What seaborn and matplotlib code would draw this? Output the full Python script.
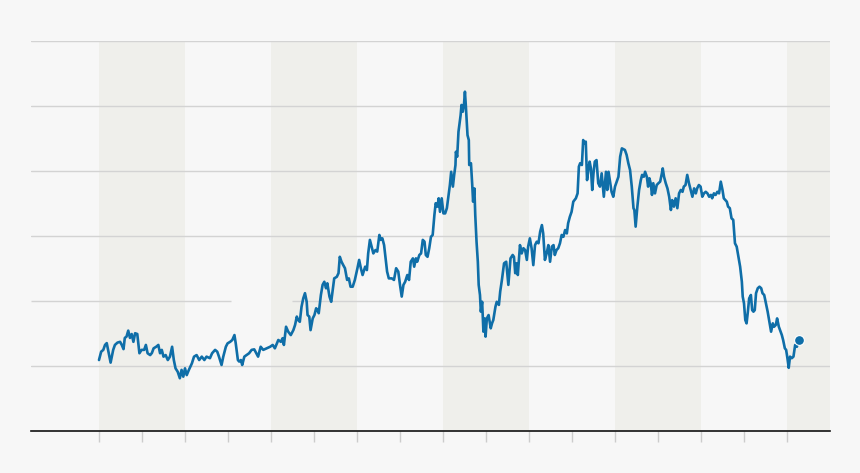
import pandas as pd
import numpy as np
import matplotlib
matplotlib.use("Agg")
import matplotlib.pyplot as plt
import seaborn as sns

# weekly-ish series (decimal year, value)
dates = [
    2000.00, 2000.05, 2000.10, 2000.14, 2000.18, 2000.22, 2000.27, 2000.33, 2000.37, 2000.43,
    2000.49, 2000.53, 2000.57, 2000.60, 2000.64, 2000.68, 2000.72, 2000.76, 2000.80, 2000.84,
    2000.89, 2000.94, 2000.99, 2001.05, 2001.09, 2001.13, 2001.19, 2001.23, 2001.27, 2001.33,
    2001.38, 2001.42, 2001.46, 2001.50, 2001.55, 2001.60, 2001.65, 2001.70, 2001.74, 2001.78,
    2001.83, 2001.88, 2001.92, 2001.96, 2002.00, 2002.04, 2002.09, 2002.16, 2002.21, 2002.27,
    2002.33, 2002.39, 2002.45, 2002.50, 2002.58, 2002.63, 2002.70, 2002.75, 2002.79, 2002.85,
    2002.89, 2002.95, 2002.99, 2003.05, 2003.10, 2003.15, 2003.18, 2003.23, 2003.26, 2003.30,
    2003.33, 2003.38, 2003.43, 2003.49, 2003.55, 2003.61, 2003.70, 2003.76, 2003.82, 2003.90,
    2003.98, 2004.04, 2004.09, 2004.17, 2004.23, 2004.27, 2004.30, 2004.35, 2004.40, 2004.46,
    2004.52, 2004.56, 2004.60, 2004.63, 2004.67, 2004.71, 2004.75, 2004.79, 2004.83, 2004.85,
    2004.89, 2004.92, 2004.97, 2005.01, 2005.05, 2005.08, 2005.11, 2005.16, 2005.20, 2005.24,
    2005.28, 2005.31, 2005.36, 2005.40, 2005.43, 2005.47, 2005.53, 2005.57, 2005.60, 2005.64,
    2005.68, 2005.72, 2005.77, 2005.81, 2005.85, 2005.90, 2005.95, 2006.01, 2006.05, 2006.09,
    2006.13, 2006.19, 2006.23, 2006.26, 2006.30, 2006.34, 2006.38, 2006.43, 2006.47, 2006.52,
    2006.55, 2006.59, 2006.63, 2006.67, 2006.70, 2006.74, 2006.81, 2006.86, 2006.91, 2006.96,
    2007.00, 2007.04, 2007.08, 2007.12, 2007.17, 2007.21, 2007.25, 2007.30, 2007.33, 2007.37,
    2007.40, 2007.45, 2007.49, 2007.53, 2007.57, 2007.60, 2007.64, 2007.68, 2007.72, 2007.76,
    2007.80, 2007.83, 2007.87, 2007.90, 2007.93, 2007.97, 2008.01, 2008.05, 2008.09, 2008.12,
    2008.16, 2008.19, 2008.23, 2008.26, 2008.29, 2008.30, 2008.33, 2008.36, 2008.38, 2008.41,
    2008.43, 2008.46, 2008.49, 2008.51, 2008.53, 2008.57, 2008.60, 2008.61, 2008.65, 2008.68,
    2008.70, 2008.73, 2008.75, 2008.78, 2008.81, 2008.83, 2008.86, 2008.88, 2008.91, 2008.94,
    2008.97, 2008.99, 2009.02, 2009.06, 2009.11, 2009.14, 2009.17, 2009.22, 2009.25, 2009.30,
    2009.33, 2009.37, 2009.42, 2009.47, 2009.52, 2009.57, 2009.62, 2009.65, 2009.68, 2009.71,
    2009.74, 2009.79, 2009.83, 2009.87, 2009.91, 2009.95, 2009.98, 2010.02, 2010.06, 2010.10,
    2010.14, 2010.18, 2010.22, 2010.26, 2010.30, 2010.33, 2010.37, 2010.41, 2010.45, 2010.49,
    2010.53, 2010.57, 2010.60, 2010.64, 2010.68, 2010.72, 2010.76, 2010.80, 2010.84, 2010.88,
    2010.91, 2010.95, 2010.99, 2011.03, 2011.09, 2011.13, 2011.16, 2011.19, 2011.23, 2011.26,
    2011.29, 2011.32, 2011.35, 2011.38, 2011.41, 2011.44, 2011.47, 2011.50, 2011.53, 2011.57,
    2011.61, 2011.65, 2011.69, 2011.74, 2011.79, 2011.82, 2011.85, 2011.88, 2011.92, 2011.96,
    2012.00, 2012.04, 2012.08, 2012.12, 2012.16, 2012.23, 2012.27, 2012.31, 2012.35, 2012.39,
    2012.43, 2012.45, 2012.48, 2012.52, 2012.56, 2012.60, 2012.63, 2012.67, 2012.70, 2012.74,
    2012.77, 2012.80, 2012.83, 2012.86, 2012.89, 2012.93, 2012.97, 2013.01, 2013.05, 2013.09,
    2013.11, 2013.14, 2013.18, 2013.22, 2013.26, 2013.30, 2013.33, 2013.37, 2013.41, 2013.45,
    2013.49, 2013.53, 2013.57, 2013.60, 2013.64, 2013.68, 2013.72, 2013.76, 2013.80, 2013.84,
    2013.88, 2013.91, 2013.95, 2013.99, 2014.03, 2014.07, 2014.11, 2014.15, 2014.19, 2014.23,
    2014.26, 2014.30, 2014.34, 2014.38, 2014.42, 2014.46, 2014.50, 2014.53, 2014.60, 2014.63,
    2014.67, 2014.71, 2014.75, 2014.79, 2014.83, 2014.87, 2014.91, 2014.95, 2014.97, 2015.00,
    2015.03, 2015.06, 2015.09, 2015.12, 2015.16, 2015.19, 2015.22, 2015.25, 2015.28, 2015.32,
    2015.36, 2015.40, 2015.43, 2015.47, 2015.51, 2015.55, 2015.59, 2015.63, 2015.67, 2015.70,
    2015.74, 2015.77, 2015.81, 2015.85, 2015.88, 2015.91, 2015.95, 2015.98, 2016.01, 2016.04,
    2016.07, 2016.11, 2016.15, 2016.19, 2016.23, 2016.27,
]
price = [
    27.3, 30.5, 31.2, 33.1, 33.8, 30.5, 26.3, 31.2, 33.1, 34.0,
    34.3, 33.1, 31.5, 35.8, 36.3, 38.6, 35.8, 37.3, 34.3, 37.6,
    37.3, 29.9, 31.2, 31.2, 33.1, 29.9, 29.2, 30.0, 31.8, 32.4,
    33.1, 29.9, 31.2, 28.6, 29.2, 27.3, 28.6, 32.4, 27.3, 24.1,
    22.8, 20.3, 23.5, 20.9, 24.1, 21.5, 23.5, 26.0, 28.6, 29.2,
    27.3, 28.6, 27.3, 28.6, 28.0, 29.9, 31.2, 30.5, 28.6, 25.4,
    28.6, 32.4, 33.7, 34.3, 35.0, 36.9, 33.7, 27.3, 26.7, 27.3,
    25.4, 28.6, 29.2, 29.9, 31.2, 31.4, 28.6, 32.4, 31.2, 31.8,
    32.4, 33.1, 31.8, 35.0, 34.3, 35.7, 33.1, 40.1, 38.2, 36.9,
    38.8, 40.8, 44.0, 42.7, 42.0, 47.8, 51.0, 53.0, 49.7, 44.6,
    44.0, 38.8, 43.3, 44.6, 47.2, 46.5, 45.3, 52.3, 56.2, 57.4,
    54.9, 56.8, 51.7, 49.7, 53.6, 58.7, 59.3, 60.7, 67.0, 65.1,
    63.8, 62.6, 58.1, 58.7, 55.5, 55.5, 58.1, 62.6, 65.8, 62.6,
    60.0, 63.2, 61.9, 68.3, 73.5, 70.9, 68.3, 69.6, 69.0, 75.4,
    73.5, 74.1, 71.5, 65.8, 61.3, 58.7, 58.7, 58.1, 62.6, 61.3,
    56.2, 51.7, 56.2, 57.4, 60.0, 58.1, 65.1, 66.4, 63.2, 66.4,
    65.1, 67.7, 68.3, 73.5, 72.8, 67.7, 67.0, 70.3, 74.7, 75.4,
    83.1, 87.6, 86.3, 89.5, 84.3, 89.5, 83.7, 83.7, 85.7, 89.5,
    94.6, 99.7, 94.0, 98.5, 102.3, 107.4, 105.5, 115.1, 117.7, 121.5,
    125.4, 122.8, 126.0, 130.5, 125.4, 113.8, 111.9, 102.3, 103.0, 94.6,
    88.2, 93.3, 83.1, 72.8, 65.1, 56.2, 52.3, 45.9, 49.7, 38.2,
    43.3, 36.3, 43.3, 44.6, 39.5, 41.4, 42.7, 47.8, 49.7, 48.5,
    53.6, 58.1, 64.5, 65.1, 56.2, 66.4, 67.7, 67.0, 60.7, 64.5,
    60.0, 71.5, 68.3, 70.3, 69.6, 65.8, 70.9, 74.1, 70.3, 63.8,
    71.5, 72.8, 72.2, 76.7, 79.2, 76.0, 65.8, 68.3, 71.5, 65.1,
    70.9, 71.5, 67.7, 69.6, 70.3, 72.2, 75.4, 74.7, 77.3, 76.0,
    79.9, 82.4, 84.3, 88.2, 89.5, 91.4, 101.7, 103.0, 102.3, 111.9,
    110.7, 111.3, 96.5, 100.4, 103.6, 101.0, 92.7, 99.1, 103.6, 104.2,
    95.3, 94.0, 99.1, 90.1, 99.7, 92.7, 99.7, 96.5, 92.0, 90.1,
    94.0, 95.9, 97.8, 105.5, 108.7, 108.1, 106.2, 103.0, 100.4, 94.0,
    85.7, 85.0, 78.6, 86.3, 92.7, 96.5, 98.5, 97.8, 99.7, 97.8,
    94.0, 97.2, 95.3, 90.8, 95.3, 91.4, 94.6, 95.3, 95.9, 99.1,
    101.0, 97.8, 95.3, 93.3, 90.1, 85.0, 88.8, 86.3, 89.5, 85.7,
    91.4, 92.7, 92.0, 94.0, 94.6, 98.5, 95.3, 92.7, 90.1, 93.3,
    91.4, 93.3, 94.6, 94.0, 90.1, 91.4, 92.0, 91.4, 90.1, 90.8,
    89.5, 91.4, 90.8, 92.0, 91.4, 95.9, 92.7, 89.5, 88.2, 86.3,
    85.7, 81.8, 81.2, 72.2, 70.9, 67.0, 63.2, 57.4, 51.7, 49.1,
    42.7, 41.4, 45.9, 51.0, 52.3, 46.5, 45.9, 46.5, 53.0, 54.9,
    55.5, 54.9, 53.0, 52.3, 49.1, 45.9, 42.0, 38.2, 41.4, 40.1,
    40.8, 43.3, 40.1, 38.2, 36.9, 35.0, 31.8, 31.2, 28.0, 24.3,
    28.6, 28.0, 28.6, 33.1, 32.4, 35.0,
]

tick_years = list(range(2000, 2017))
band_starts = [2000, 2004, 2008, 2012, 2016]
grid_levels = [25, 50, 75, 100, 125, 150]

df = pd.DataFrame({'date': dates, 'price': price})

bg = '#f7f7f7'
band_col = '#efefeb'
line_col = '#0f6ea8'
grid_col = '#d3d3d3'

sns.set_style('white', {'axes.facecolor': bg, 'figure.facecolor': bg,
                        'xtick.bottom': True})

fig = plt.figure(figsize=(8.6, 4.73), dpi=100)
ax = fig.add_axes([31/860, 42/473, 799/860, 390/473])

x_lo = 2000 - 68/43
x_hi = 2017
ax.set_xlim(x_lo, x_hi)
ax.set_ylim(0, 150)

# shaded alternate two-year bands
for s in band_starts:
    ax.axvspan(s, min(s + 2, x_hi), color=band_col, lw=0, zorder=0)

# horizontal gridlines (the 50 line has a gap where a label used to sit)
for g in grid_levels:
    if g == 50:
        ax.hlines(g, x_lo, 2000 + 131.7/43, color=grid_col, lw=1, zorder=1)
        ax.hlines(g, 2000 + 192.7/43, x_hi, color=grid_col, lw=1, zorder=1)
    else:
        ax.axhline(g, color=grid_col, lw=1, zorder=1)

sns.lineplot(data=df, x='date', y='price', color=line_col, linewidth=1.9,
             ax=ax, zorder=3)
ax.scatter(df['date'].iloc[-1], df['price'].iloc[-1], s=50, color=line_col,
           edgecolor='white', linewidth=0.8, zorder=4)

for sp in ['top', 'right', 'left']:
    ax.spines[sp].set_visible(False)
ax.spines['bottom'].set_color('#111111')
ax.spines['bottom'].set_linewidth(1.2)
ax.spines['bottom'].set_zorder(5)

ax.set_xticks(tick_years)
ax.set_xticklabels([])
ax.set_yticks([])
ax.tick_params(axis='x', bottom=True, length=8, width=1, color='#cccccc',
               direction='out')
ax.set_xlabel('')
ax.set_ylabel('')

fig.savefig('out.png', dpi=100, facecolor=bg)
